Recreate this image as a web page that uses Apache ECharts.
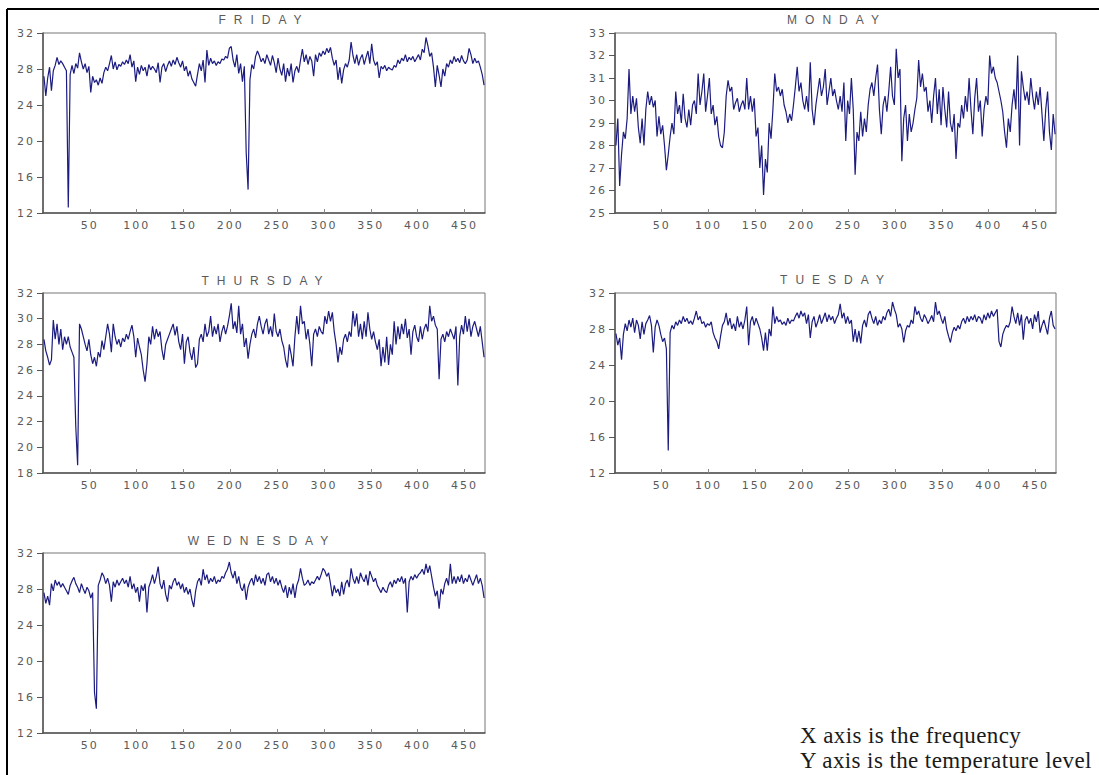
<!DOCTYPE html>
<html><head><meta charset="utf-8">
<script src="https://cdn.jsdelivr.net/npm/echarts@6/dist/echarts.min.js"></script>
<style>
html,body{margin:0;padding:0;background:#fff;}
#chart{width:1099px;height:775px;}
</style></head>
<body><div id="chart"></div>
<script>
// ---- data ----
const X_START = 1, X_STEP = 2;          // observation index of first value, spacing between values
const xTickStep = 50;
const DAYS = ['FRIDAY', 'MONDAY', 'THURSDAY', 'TUESDAY', 'WEDNESDAY'];
const yMin = [12, 25, 18, 12, 12];
const yMax = [32, 33, 32, 32, 32];
const yStep = [4, 1, 2, 4, 4];
const noteLines = ['X axis is the frequency', 'Y axis is the temperature level'];

const friday = [
27.2,25.0,27.0,28.2,25.6,27.8,28.4,29.3,28.5,28.9,
28.6,28.2,27.8,12.6,27.4,28.4,27.5,28.6,28.1,29.8,
28.8,28.0,28.6,27.6,28.3,25.4,27.2,26.5,26.8,26.2,
27.0,26.4,27.6,28.2,27.8,28.6,29.5,28.0,28.8,27.9,
28.5,28.3,28.8,28.5,29.0,28.6,29.6,28.2,28.9,26.6,
28.2,27.4,28.4,27.8,28.2,27.2,28.5,27.9,28.3,28.0,
27.6,28.7,26.5,28.2,28.6,27.7,28.4,28.9,28.3,29.0,
28.5,29.3,28.7,28.2,28.9,27.8,28.3,27.2,27.8,26.9,
26.5,26.1,27.4,28.6,27.8,29.0,26.5,30.1,28.4,29.2,
28.6,28.9,28.4,28.8,28.6,29.1,29.0,29.4,29.2,30.3,
30.5,29.0,28.2,29.6,27.5,28.6,26.6,28.3,18.7,14.6,
26.8,28.5,28.0,29.4,30.0,29.5,28.8,29.2,28.6,29.6,
29.0,28.4,29.5,28.7,27.6,29.2,28.0,27.3,28.6,26.6,
28.1,27.2,28.6,26.5,27.8,28.3,27.6,29.0,30.2,28.8,
29.6,28.5,29.4,28.9,27.2,29.6,28.8,29.8,29.4,30.0,
29.6,30.3,29.8,30.4,29.2,28.4,29.0,26.8,28.2,26.4,
27.9,28.6,28.2,29.0,31.0,29.5,28.6,29.6,28.4,29.2,
29.6,28.5,29.3,30.0,28.6,30.8,29.0,28.4,28.8,27.0,
28.3,28.0,28.4,27.8,28.2,28.0,27.9,28.4,28.2,29.0,
28.6,29.2,28.9,29.6,28.8,29.3,29.0,29.4,28.8,29.2,
29.6,29.0,30.2,29.8,31.5,30.6,29.4,29.8,28.2,26.0,
28.4,27.3,26.0,28.0,27.2,28.6,28.2,29.0,28.6,29.4,
28.8,29.2,28.7,29.5,28.9,28.6,29.0,30.3,29.6,28.6,
29.2,28.7,28.9,28.2,27.4,26.2];

const monday = [
28.0,29.2,26.2,27.6,28.6,28.3,29.2,31.4,29.4,30.2,
29.5,30.1,28.8,28.1,29.2,28.0,29.6,30.4,29.8,30.2,
29.7,30.0,28.4,29.3,28.5,28.9,28.0,26.9,27.6,28.4,
29.0,28.5,30.4,29.4,29.8,29.0,30.3,29.2,28.8,29.6,
28.9,29.8,30.0,29.4,31.2,29.8,30.4,31.2,29.5,30.2,
31.0,29.4,29.8,28.9,29.3,28.4,28.0,27.9,28.6,30.2,
30.9,30.4,30.6,29.6,29.9,30.1,29.5,29.8,30.0,29.6,
31.0,29.6,30.2,29.5,30.1,28.4,28.8,27.0,28.0,25.8,
27.4,26.8,29.0,28.3,29.6,31.2,30.4,30.6,30.2,30.5,
29.8,29.5,29.0,29.4,29.1,29.8,30.6,31.5,30.4,30.8,
30.0,29.6,30.2,29.5,31.7,29.6,28.9,29.8,30.4,31.0,
30.2,30.6,31.4,29.8,30.4,31.0,30.2,30.5,30.0,29.6,
30.2,29.5,30.8,28.2,30.0,29.4,31.0,29.6,26.7,28.6,
28.2,29.5,28.4,29.2,28.6,29.8,30.5,30.8,30.2,31.0,
31.6,29.6,28.5,29.8,30.2,29.5,30.4,31.5,30.2,29.8,
32.3,31.0,31.4,27.3,29.2,29.8,28.2,29.4,28.6,29.0,
29.6,30.1,31.8,30.6,31.2,30.4,30.6,29.5,30.0,29.0,
30.2,31.0,29.4,30.5,28.9,30.6,29.6,28.8,30.4,29.0,
28.6,29.4,27.4,29.0,28.8,29.8,29.2,30.2,29.5,31.0,
29.6,28.5,30.1,31.0,29.5,30.0,28.4,29.6,30.2,29.8,
32.0,31.2,31.5,31.0,30.8,30.4,30.0,29.5,28.6,27.9,
29.2,28.6,29.8,30.5,29.6,32.0,28.0,31.3,30.6,30.0,
30.4,29.8,31.0,30.2,29.6,30.4,29.8,30.6,29.4,28.2,
29.6,30.4,28.6,27.8,29.4,28.5];

const thursday = [
28.4,27.5,27.0,26.4,26.8,29.9,28.4,29.6,28.0,29.2,
27.6,28.6,28.0,28.6,27.8,27.4,27.0,21.6,18.6,29.6,
29.2,28.6,28.0,27.5,28.4,27.2,26.5,27.0,26.3,27.4,
27.0,28.3,27.6,28.6,29.6,28.8,27.4,29.6,28.6,28.0,
28.4,27.8,28.5,28.2,28.8,28.4,29.0,29.5,28.6,27.0,
28.5,27.8,27.2,26.0,25.1,26.5,28.6,28.0,29.4,28.4,
29.2,28.6,29.0,27.6,26.8,28.0,28.4,28.8,29.2,29.6,
28.7,29.4,28.2,27.6,28.8,26.5,28.2,28.6,27.4,26.8,
27.8,26.2,26.5,28.4,28.8,28.2,29.6,28.6,29.0,30.2,
28.6,29.4,28.8,29.6,28.2,29.0,29.5,28.8,29.4,30.2,
31.2,29.2,29.8,28.9,31.0,28.8,29.6,27.8,28.5,26.9,
28.0,28.8,29.2,28.5,29.6,30.2,29.4,28.8,29.6,30.0,
28.8,29.4,28.6,30.4,29.0,28.6,29.2,28.3,27.8,26.8,
26.2,28.0,27.2,26.3,28.6,30.2,28.8,31.0,29.6,29.8,
28.4,29.2,28.0,26.3,28.8,29.2,28.6,29.4,29.0,28.8,
30.2,29.6,30.6,29.8,30.5,29.0,28.0,26.6,27.8,27.2,
28.4,28.8,28.2,29.0,28.6,30.6,29.4,30.4,28.6,29.6,
28.4,29.8,28.6,30.5,29.2,28.4,29.0,28.2,27.6,28.4,
26.3,27.8,26.6,28.6,26.4,28.0,27.2,29.8,28.0,29.4,
28.4,29.6,28.8,30.0,28.5,29.2,27.2,29.0,29.5,28.6,
28.2,29.4,28.4,29.2,29.6,29.0,31.0,29.8,30.2,29.5,
29.2,25.3,28.4,28.8,28.2,29.0,28.6,29.2,28.8,28.4,
29.4,24.8,28.6,29.5,28.8,30.2,29.0,30.0,28.6,29.4,
29.8,29.2,28.6,29.4,28.2,27.0];

const tuesday = [
27.5,26.2,27.0,24.6,27.4,28.6,27.8,29.0,28.2,29.2,
27.6,29.0,28.4,26.9,28.8,27.4,28.6,29.0,29.5,28.4,
25.4,28.2,29.0,28.4,27.4,26.6,27.0,25.8,14.5,27.6,
28.4,28.0,28.8,28.4,29.0,28.6,29.4,28.8,29.2,28.6,
28.9,28.5,29.2,30.0,29.0,29.4,28.6,28.8,28.2,28.6,
28.4,28.8,27.6,27.0,26.6,25.8,27.2,28.4,28.8,29.8,
28.4,29.2,28.0,28.6,27.8,29.4,28.2,28.8,28.0,29.0,
30.5,26.2,28.8,29.4,28.4,29.2,28.6,28.0,27.0,25.6,
27.6,25.6,28.0,27.2,30.5,28.6,29.4,28.8,29.0,28.5,
28.8,28.4,29.2,28.6,29.0,28.9,29.4,29.8,29.2,30.0,
29.4,29.8,28.6,29.6,27.0,28.8,29.4,28.2,28.8,29.6,
28.6,29.2,29.8,28.8,29.6,29.0,29.4,28.6,29.2,29.6,
30.8,29.2,29.8,28.6,29.4,28.6,29.0,26.6,28.0,26.5,
27.8,26.4,28.4,29.0,28.2,29.6,30.0,29.2,28.6,29.4,
28.4,29.0,28.6,29.4,29.0,29.8,30.2,29.4,31.0,30.2,
29.6,28.2,28.6,28.0,26.5,27.8,28.4,28.2,29.0,28.6,
30.5,29.6,30.0,29.2,28.8,29.6,29.2,28.6,29.0,29.5,
28.8,31.0,29.6,30.0,29.2,28.6,29.4,28.0,27.2,26.5,
27.6,28.2,27.8,28.4,28.0,28.8,29.2,28.6,29.4,28.8,
29.4,29.0,29.6,28.8,29.4,29.2,28.6,29.6,29.0,29.8,
29.2,30.0,29.4,29.8,30.2,26.6,26.0,27.4,28.0,28.4,
28.2,28.8,30.5,29.4,28.6,29.8,28.4,29.6,26.8,29.0,
29.4,28.6,29.2,28.0,29.6,28.8,30.0,27.6,28.4,29.0,
28.2,27.4,29.2,30.0,28.4,28.0];

const wednesday = [
27.6,26.4,27.2,26.2,28.6,27.8,29.0,28.4,28.8,28.2,
28.6,28.2,27.8,27.4,28.4,28.9,29.3,28.6,28.2,27.6,
28.6,28.0,27.5,28.2,27.8,27.0,27.6,16.5,14.7,28.4,
29.0,29.8,29.4,28.6,29.2,28.4,26.6,28.8,28.2,29.0,
28.4,28.8,29.2,28.6,29.0,28.2,29.4,28.0,28.6,27.6,
28.2,26.6,28.4,27.8,28.6,25.4,28.2,28.8,29.6,28.6,
29.4,30.5,28.6,28.0,29.0,27.4,26.6,28.4,28.0,28.8,
29.2,28.4,28.8,28.0,28.6,27.6,28.2,27.4,28.0,26.8,
26.0,27.8,28.8,29.2,28.4,30.2,29.0,29.6,28.6,29.2,
28.8,29.4,28.6,29.0,28.8,29.4,29.2,29.8,30.2,31.0,
29.8,29.2,30.0,28.6,29.4,28.2,27.8,28.6,26.8,28.2,
28.8,29.2,28.4,29.6,28.8,29.4,28.6,29.2,28.4,29.6,
29.8,28.8,29.4,28.6,29.2,28.4,29.0,28.2,27.6,28.4,
27.0,28.2,27.4,28.6,27.0,28.4,29.0,30.3,29.2,28.4,
28.6,29.0,28.4,28.8,28.6,29.0,29.4,29.0,29.6,30.3,
30.0,29.4,29.8,28.6,27.2,28.4,27.6,28.0,27.2,28.8,
27.4,28.6,29.0,28.2,30.3,29.2,28.6,29.4,28.6,29.8,
29.2,28.8,29.6,28.4,30.0,29.4,28.8,29.2,28.4,28.0,
27.6,28.2,27.8,27.6,28.4,28.8,28.2,29.0,28.6,29.2,
28.8,29.4,28.6,29.2,25.4,28.8,29.4,29.0,29.6,29.2,
29.6,29.8,30.2,29.6,30.8,29.8,30.6,29.4,28.2,27.2,
27.8,25.8,28.0,27.4,28.6,29.2,28.4,30.8,28.6,29.4,
28.6,29.4,28.8,29.6,28.6,29.2,28.8,29.6,29.0,28.4,
29.0,29.6,28.6,29.2,28.4,27.0];

const seriesValues = [friday, monday, thursday, tuesday, wednesday];

// ---- layout ----
const panels = [
  {left: 43,  top: 33,  width: 442, height: 180, tx: 259, ty: 9},
  {left: 615, top: 33,  width: 441, height: 180, tx: 832, ty: 9},
  {left: 43,  top: 293, width: 442, height: 180, tx: 261, ty: 270},
  {left: 615, top: 293, width: 441, height: 180, tx: 831, ty: 269},
  {left: 43,  top: 553, width: 442, height: 180, tx: 257, ty: 530}
];
const X_MAX = 472;
const labelColor = '#5a5a5a';
const axisColor = '#555';
const lineColor = '#1b1b80';

const grid = [], xAxis = [], yAxis = [], series = [], title = [];
panels.forEach((p, i) => {
  grid.push({left: p.left, top: p.top, width: p.width, height: p.height,
    show: true, borderColor: '#777', borderWidth: 1, backgroundColor: '#fff'});
  title.push({text: DAYS[i], left: p.tx, top: p.ty, textAlign: 'center',
    textStyle: {fontFamily: 'Arial', fontSize: 12, fontWeight: 'normal', color: labelColor}});
  xAxis.push({type: 'value', gridIndex: i, min: 0, max: X_MAX, interval: xTickStep,
    axisLine: {show: true, onZero: false, lineStyle: {color: axisColor, width: 1.5}},
    axisTick: {show: true, inside: true, length: 4, lineStyle: {color: '#888'}},
    axisLabel: {show: true, margin: 7, fontSize: 11, fontFamily: 'DejaVu Sans', color: labelColor,
      showMinLabel: false, showMaxLabel: false,
      formatter: v => (v > 0 && v % xTickStep === 0 ? String(v) : '')},
    splitLine: {show: false}});
  yAxis.push({type: 'value', gridIndex: i, min: yMin[i], max: yMax[i], interval: yStep[i],
    axisLine: {show: true, onZero: false, lineStyle: {color: axisColor, width: 1.5}},
    axisTick: {show: true, inside: false, length: 6, lineStyle: {color: axisColor}},
    axisLabel: {show: true, margin: 8, fontSize: 11, fontFamily: 'DejaVu Sans', color: labelColor},
    splitLine: {show: false}});
  series.push({type: 'line', xAxisIndex: i, yAxisIndex: i, symbol: 'none', showSymbol: false,
    lineStyle: {color: lineColor, width: 1.2}, silent: true,
    data: seriesValues[i].map((v, k) => [X_START + k * X_STEP, v])});
});

const chart = echarts.init(document.getElementById('chart'), null, {renderer: 'svg', width: 1099, height: 775});
chart.setOption({
  animation: false,
  backgroundColor: '#fff',
  title, grid, xAxis, yAxis, series,
  graphic: [
    {type: 'line', shape: {x1: 7, y1: 9, x2: 1099, y2: 9}, style: {stroke: '#000', lineWidth: 2}},
    {type: 'line', shape: {x1: 7, y1: 9, x2: 7, y2: 775}, style: {stroke: '#000', lineWidth: 2}},
    {type: 'text', left: 800, top: 724, style: {text: noteLines[0], font: '23px "Liberation Serif"', fill: '#1a1a1a'}},
    {type: 'text', left: 800, top: 749, style: {text: noteLines[1], font: '23px "Liberation Serif"', fill: '#1a1a1a'}}
  ]
});

function applySpacing() {
  document.querySelectorAll('#chart svg text').forEach(t => {
    const s = (t.textContent || '').trim();
    if (DAYS.includes(s)) t.style.letterSpacing = '8px';
    else if (/^\d+$/.test(s)) t.style.letterSpacing = '2px';
    else if (noteLines.includes(s)) t.style.letterSpacing = '0.4px';
  });
}
applySpacing();
chart.on('finished', applySpacing);
</script>
</body></html>
